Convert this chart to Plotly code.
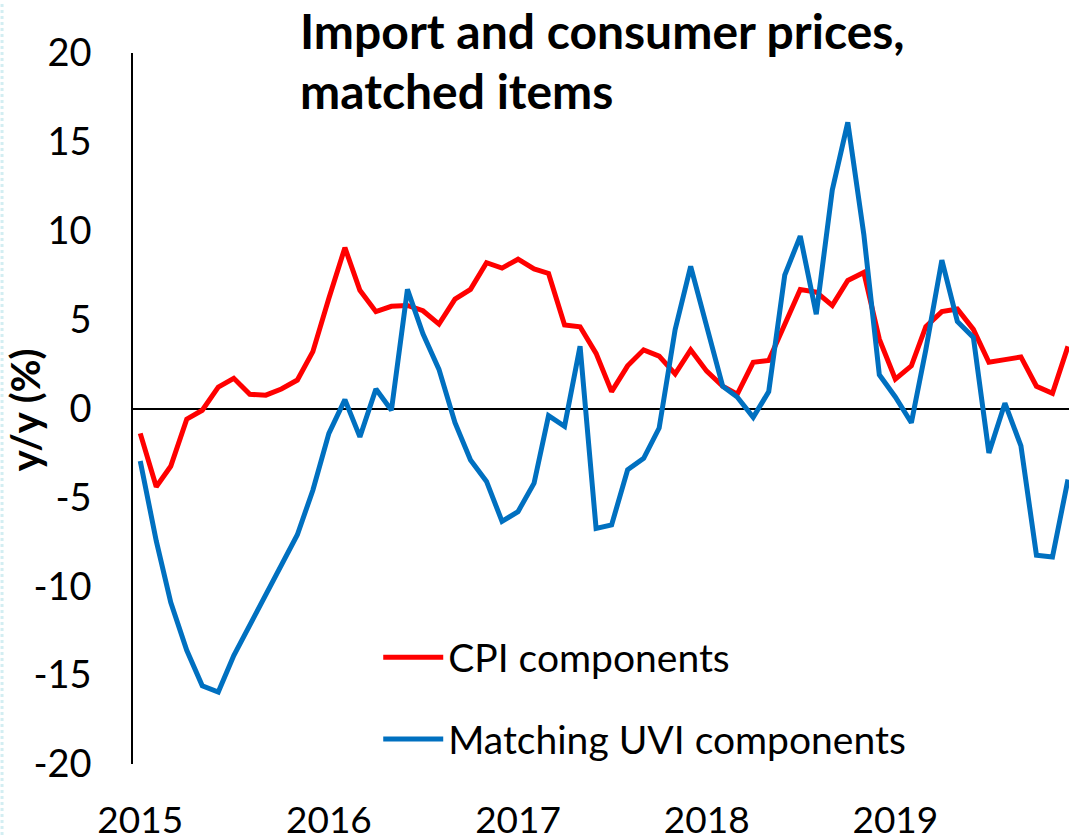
import pandas as pd
import plotly.graph_objects as go

months = pd.date_range("2015-01-01", periods=60, freq="MS")
year_ticks = ["2015-01-01", "2016-01-01", "2017-01-01", "2018-01-01", "2019-01-01"]
year_labels = ["2015", "2016", "2017", "2018", "2019"]
y_ticks = [20, 15, 10, 5, 0, -5, -10, -15, -20]
y_labels = ["20", "15", "10", "5", "0", "-5", "-10", "-15", "-20"]

cpi = [-1.4, -4.4, -3.25, -0.6, -0.1, 1.2, 1.7, 0.8, 0.75, 1.1, 1.6,
       3.2, 6.2, 9.05, 6.65, 5.45, 5.75, 5.8, 5.5, 4.75, 6.15,
       6.7, 8.2, 7.9, 8.4, 7.85, 7.6, 4.7, 4.6, 3.1, 0.95,
       2.4, 3.3, 2.95, 1.95, 3.3, 2.1, 1.25, 0.8, 2.6, 2.7,
       4.65, 6.7, 6.55, 5.8, 7.2, 7.65, 3.9, 1.65, 2.4, 4.6,
       5.45, 5.6, 4.45, 2.6, 2.75, 2.9, 1.25, 0.85, 3.5]

uvi = [-2.95, -7.45, -10.9, -13.6, -15.6, -15.95, -13.9, -12.2, -10.4, -8.9, -7.1,
       -4.6, -1.4, 0.5, -1.6, 1.1, -0.1, 6.7, 4.2, 2.2, -0.8,
       -2.9, -4.1, -6.35, -5.8, -4.2, -0.4, -1.0, 3.5, -6.75, -6.55,
       -3.45, -2.8, -1.1, 4.45, 8.0, 4.6, 1.25, 0.65, -0.5, 0.95,
       7.5, 9.7, 5.3, 12.3, 16.1, 9.8, 1.9, 0.65, -0.8, 3.3,
       8.35, 4.9, 4.0, -2.5, 0.3, -2.1, -8.25, -8.35, -4.0]

FONT = "Lato"

fig = go.Figure()
fig.add_trace(go.Scatter(x=months, y=cpi, mode="lines", name="CPI components",
                         legendgroup="a",
                         line=dict(color="#FF0000", width=5)))
fig.add_trace(go.Scatter(x=months, y=uvi, mode="lines", name="Matching UVI components",
                         legendgroup="b",
                         line=dict(color="#0070C0", width=5)))

fig.update_layout(
    width=1069, height=838,
    margin=dict(l=133, r=0, t=53, b=74, autoexpand=False),
    plot_bgcolor="white", paper_bgcolor="white",
    font=dict(family=FONT, size=38, color="black"),
    showlegend=True,
    legend=dict(x=0.262, y=0.195, xanchor="left", yanchor="top",
                bgcolor="rgba(0,0,0,0)", borderwidth=0,
                font=dict(family=FONT, size=39, color="black"),
                tracegroupgap=28, traceorder="grouped", itemwidth=60),
    xaxis=dict(type="date", range=["2014-12-18", "2019-12-03"],
               tickmode="array", tickvals=year_ticks, ticktext=year_labels,
               showgrid=False, showline=False, zeroline=False, ticks="",
               ticklabelstandoff=31, automargin=False,
               tickfont=dict(family=FONT, size=37, color="black")),
    yaxis=dict(range=[-20, 20], tickmode="array", tickvals=y_ticks, ticktext=y_labels,
               showgrid=False, showline=True, linecolor="black", linewidth=1.5,
               zeroline=True, zerolinecolor="black", zerolinewidth=1.5,
               ticks="", ticklabelstandoff=32, automargin=False,
               tickfont=dict(family=FONT, size=38, color="black")),
    annotations=[
        dict(text="<b>Import and consumer prices,</b>", xref="paper", yref="paper",
             x=0.1763, y=1.0323, xanchor="left", yanchor="middle", showarrow=False,
             font=dict(family=FONT, size=48, color="black")),
        dict(text="<b>matched items</b>", xref="paper", yref="paper",
             x=0.1763, y=0.9477, xanchor="left", yanchor="middle", showarrow=False,
             font=dict(family=FONT, size=48, color="black")),
        dict(text="<b>y/y (%)</b>", xref="paper", yref="paper",
             x=-0.115, y=0.498, xanchor="center", yanchor="middle", showarrow=False,
             textangle=-90, font=dict(family=FONT, size=40, color="black")),
    ],
    shapes=[dict(type="line", xref="paper", yref="paper", x0=-0.1399, x1=-0.1399,
                 y0=-0.1, y1=1.07, line=dict(color="#d3eef2", width=3, dash="dot"))],
)

fig.write_html("out.html",
               config={"displayModeBar": False},
               post_script="document.body.style.margin='0';document.body.style.overflow='hidden';")
